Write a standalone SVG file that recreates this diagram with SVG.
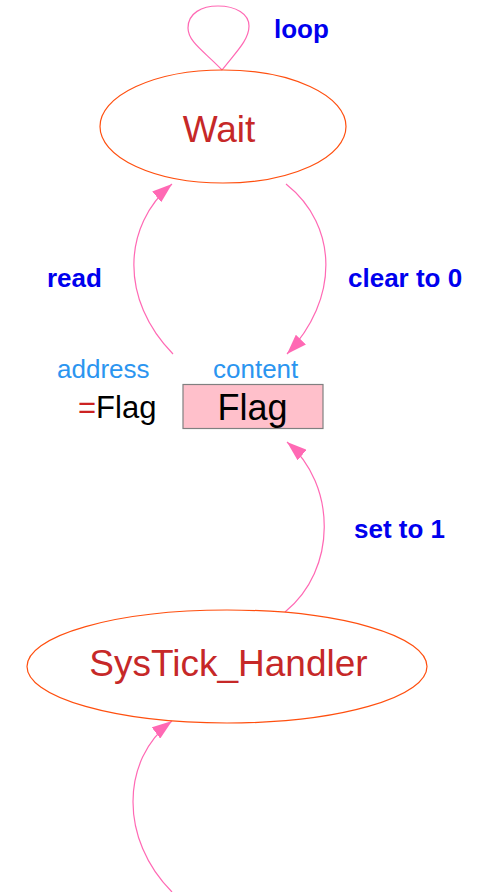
<svg xmlns="http://www.w3.org/2000/svg" width="482" height="892" viewBox="0 0 482 892">
<style>
.state{fill:none;stroke:#ff4f0f;stroke-width:1.2}
.stext{font-family:"Liberation Sans",Arial,sans-serif;font-size:37px;fill:#c62828;text-anchor:middle}
.edge{fill:none;stroke:#ff69b4;stroke-width:1.2}
.lbl{font-family:"Liberation Sans",Arial,sans-serif;font-size:26px;font-weight:bold;fill:#0000ee}
.mem{font-family:"Liberation Sans",Arial,sans-serif;font-size:26px;fill:#2b95f0}
</style>
<defs>
<marker id="arr" markerUnits="userSpaceOnUse" markerWidth="22" markerHeight="14" refX="20" refY="7" orient="auto" viewBox="0 0 22 14">
<path d="M0,0 L20,7 L0,14 z" fill="#ff69b4"/>
</marker>
</defs>
<g id="connectors">
<path class="edge" d="M222,70 C205,52 188,42 188,28 C188,13 202,6 218,6 C236,6 249,14 249,26 C249,40 236,52 222,70"/>
<path class="edge" d="M173,354 C120,300 122,226 172,184" marker-end="url(#arr)"/>
<path class="edge" d="M286,184 C339,226 339,300 287,354" marker-end="url(#arr)"/>
<path class="edge" d="M285,612 C337,570 337,485 287,442" marker-end="url(#arr)"/>
<path class="edge" d="M172,892 C120,840 120,760 172,721" marker-end="url(#arr)"/>
<text class="lbl" x="274" y="38">loop</text>
<text class="lbl" x="47" y="287">read</text>
<text class="lbl" x="348" y="287">clear to 0</text>
<text class="lbl" x="354" y="538">set to 1</text>
</g>
<g id="wait">
<ellipse class="state" cx="223" cy="126.5" rx="123" ry="56.5"/>
<text class="stext" x="219" y="142">Wait</text>
</g>
<g id="flag">
<text class="mem" x="57" y="378">address</text>
<text class="mem" x="213" y="378">content</text>
<text x="78" y="418" font-family="Liberation Sans,Arial,sans-serif" font-size="31"><tspan fill="#cc2222">=</tspan><tspan fill="#000">Flag</tspan></text>
<rect x="183" y="384.5" width="140" height="44" fill="#ffc0cb" stroke="#808080" stroke-width="1.2"/>
<text x="252.5" y="420" font-family="Liberation Sans,Arial,sans-serif" font-size="36" fill="#000" text-anchor="middle">Flag</text>
</g>
<g id="systick">
<ellipse class="state" cx="227" cy="666.5" rx="200" ry="56.5"/>
<text class="stext" x="228.5" y="676">SysTick_Handler</text>
</g>
</svg>
